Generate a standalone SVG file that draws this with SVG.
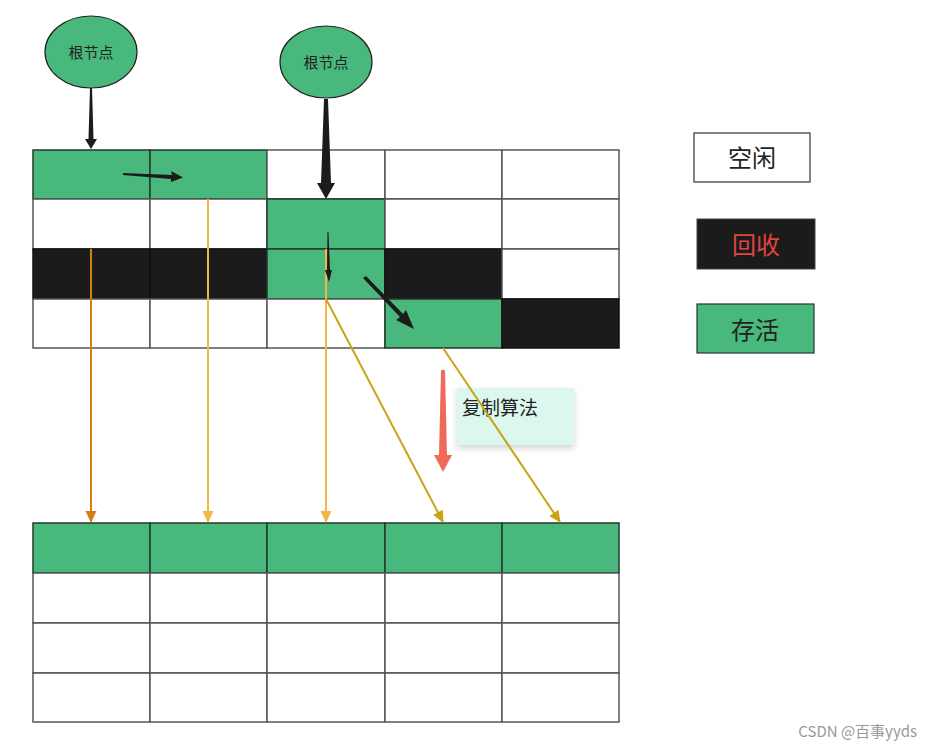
<svg xmlns="http://www.w3.org/2000/svg" width="933" height="749" viewBox="0 0 933 749">
<defs>
<style>
.w{fill:#ffffff;stroke:#555;stroke-width:1.5}
.g{fill:#48b87c;stroke:#24382c;stroke-width:1.5}
.b{fill:#1b1b1b;stroke:#111;stroke-width:1.5}
.t{font-family:"Noto Sans CJK SC","Noto Sans",sans-serif}
</style>
<marker id="ml" markerWidth="12" markerHeight="12" refX="11" refY="6" orient="auto" markerUnits="userSpaceOnUse" viewBox="0 0 12 12"><path d="M0,0.5 L12,6 L0,11.5 Z" fill="#f4b64a"/></marker>
<marker id="md" markerWidth="12" markerHeight="12" refX="11" refY="6" orient="auto" markerUnits="userSpaceOnUse" viewBox="0 0 12 12"><path d="M0,0.5 L12,6 L0,11.5 Z" fill="#c9a515"/></marker>
<marker id="mdo" markerWidth="12" markerHeight="12" refX="11" refY="6" orient="auto" markerUnits="userSpaceOnUse" viewBox="0 0 12 12"><path d="M0,0.5 L12,6 L0,11.5 Z" fill="#d47e12"/></marker>
<filter id="sh" x="-10%" y="-10%" width="130%" height="140%"><feDropShadow dx="0" dy="3" stdDeviation="3" flood-color="#000" flood-opacity="0.18"/></filter>
</defs>
<rect width="933" height="749" fill="#ffffff"/>

<g id="grid-top">
<rect class="g" x="33" y="150" width="117" height="49"/>
<rect class="g" x="150" y="150" width="117" height="49"/>
<rect class="w" x="267" y="150" width="118" height="49"/>
<rect class="w" x="385" y="150" width="117" height="49"/>
<rect class="w" x="502" y="150" width="117" height="49"/>
<rect class="w" x="33" y="199" width="117" height="50"/>
<rect class="w" x="150" y="199" width="117" height="50"/>
<rect class="g" x="267" y="199" width="118" height="50"/>
<rect class="w" x="385" y="199" width="117" height="50"/>
<rect class="w" x="502" y="199" width="117" height="50"/>
<rect class="b" x="33" y="249" width="117" height="50"/>
<rect class="b" x="150" y="249" width="117" height="50"/>
<rect class="g" x="267" y="249" width="118" height="50"/>
<rect class="b" x="385" y="249" width="117" height="50"/>
<rect class="w" x="502" y="249" width="117" height="50"/>
<rect class="w" x="33" y="299" width="117" height="49"/>
<rect class="w" x="150" y="299" width="117" height="49"/>
<rect class="w" x="267" y="299" width="118" height="49"/>
<rect class="g" x="385" y="299" width="117" height="49"/>
<rect class="b" x="502" y="299" width="117" height="49"/>
</g>

<g id="grid-bottom">
<rect class="g" x="33" y="523" width="117" height="50"/>
<rect class="g" x="150" y="523" width="117" height="50"/>
<rect class="g" x="267" y="523" width="118" height="50"/>
<rect class="g" x="385" y="523" width="117" height="50"/>
<rect class="g" x="502" y="523" width="117" height="50"/>
<rect class="w" x="33" y="573" width="117" height="50"/>
<rect class="w" x="150" y="573" width="117" height="50"/>
<rect class="w" x="267" y="573" width="118" height="50"/>
<rect class="w" x="385" y="573" width="117" height="50"/>
<rect class="w" x="502" y="573" width="117" height="50"/>
<rect class="w" x="33" y="623" width="117" height="50"/>
<rect class="w" x="150" y="623" width="117" height="50"/>
<rect class="w" x="267" y="623" width="118" height="50"/>
<rect class="w" x="385" y="623" width="117" height="50"/>
<rect class="w" x="502" y="623" width="117" height="50"/>
<rect class="w" x="33" y="673" width="117" height="49"/>
<rect class="w" x="150" y="673" width="117" height="49"/>
<rect class="w" x="267" y="673" width="118" height="49"/>
<rect class="w" x="385" y="673" width="117" height="49"/>
<rect class="w" x="502" y="673" width="117" height="49"/>
</g>

<g id="root1">
<ellipse cx="91" cy="52" rx="46" ry="36" fill="#48b87c" stroke="#222" stroke-width="1.2"/>
<text class="t" x="91" y="58" font-size="15" fill="#222" text-anchor="middle">根节点</text>
</g>
<g id="root2">
<ellipse cx="326" cy="62" rx="46" ry="36" fill="#48b87c" stroke="#222" stroke-width="1.2"/>
<text class="t" x="326" y="68" font-size="15" fill="#222" text-anchor="middle">根节点</text>
</g>

<g id="note">
<rect x="457" y="388" width="117" height="57" fill="#dbf7ee" filter="url(#sh)"/>
<text class="t" x="462" y="415" font-size="19" fill="#222">复制算法</text>
</g>

<g id="connectors">
<line x1="91" y1="249" x2="91" y2="522" stroke="#d47e12" stroke-width="2" marker-end="url(#mdo)"/>
<line x1="208" y1="199" x2="208" y2="522" stroke="#f4b64a" stroke-width="2" marker-end="url(#ml)"/>
<line x1="326" y1="249" x2="326" y2="522" stroke="#f4b64a" stroke-width="2" marker-end="url(#ml)"/>
<line x1="326" y1="299" x2="443" y2="522" stroke="#c9a515" stroke-width="2" marker-end="url(#md)"/>
<line x1="443" y1="348" x2="560" y2="522" stroke="#c9a515" stroke-width="2" marker-end="url(#md)"/>
<polygon points="90,88 92,88 93.5,139 97,139 91,149 85,139 88.5,139" fill="#1b1b1b"/>
<polygon points="324,99 328,99 331,183 335,183 326,199 317,183 321,183" fill="#1b1b1b"/>
<polygon points="123,173 172,175 171,171 183,177.5 171,182 171,179 123,175" fill="#1b1b1b"/>
<polygon points="327.5,232 328.5,232 330,270 332,270 329,282 325,270 327,270" fill="#1b1b1b"/>
<polygon points="363,278 366,276 403,314 406,310 414,329 396,320 400,317" fill="#1b1b1b"/>
<polygon points="441,370 445,370 447,455 452,455 443,472 434,455 439,455" fill="#f06a5a"/>
</g>

<g id="legend-free">
<rect x="694" y="133" width="116" height="49" fill="#fff" stroke="#333" stroke-width="1.2"/>
<text class="t" x="752" y="167" font-size="24" fill="#222" text-anchor="middle">空闲</text>
</g>
<g id="legend-recycle">
<rect x="697" y="219" width="118" height="50" fill="#1b1b1b" stroke="#444" stroke-width="1"/>
<text class="t" x="756" y="254" font-size="24" fill="#e0463e" text-anchor="middle">回收</text>
</g>
<g id="legend-alive">
<rect x="697" y="304" width="117" height="49" fill="#48b87c" stroke="#24382c" stroke-width="1.2"/>
<text class="t" x="755" y="339" font-size="24" fill="#222" text-anchor="middle">存活</text>
</g>

<text class="t" x="917" y="737" font-size="15" fill="#999" text-anchor="end">CSDN @百事yyds</text>
</svg>
